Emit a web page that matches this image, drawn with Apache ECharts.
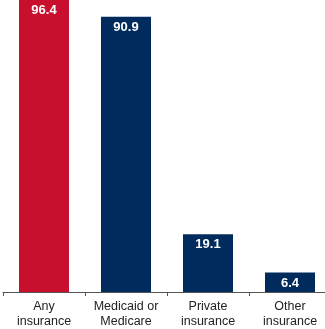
<!DOCTYPE html>
<html>
<head>
<meta charset="utf-8">
<script src="https://cdn.jsdelivr.net/npm/echarts@6/dist/echarts.min.js"></script>
<style>
  html, body { margin: 0; padding: 0; background: #fff; }
  #chart { width: 325px; height: 329px; }
</style>
</head>
<body>
<div id="chart"></div>
<script>
// Insurance coverage shares (percent)
const categories = ['Any\ninsurance', 'Medicaid or\nMedicare', 'Private\ninsurance', 'Other\ninsurance'];
const values = [96.4, 90.9, 19.1, 6.4];
const barColors = ['#C8102E', '#002B5C', '#002B5C', '#002B5C'];

const chart = echarts.init(document.getElementById('chart'));
chart.setOption({
  animation: false,
  grid: { left: 3, width: 328, top: 0, bottom: 37, outerBoundsMode: 'none', containLabel: false },
  xAxis: {
    type: 'category',
    data: categories,
    boundaryGap: true,
    axisLine: { lineStyle: { color: '#555', width: 1 } },
    axisTick: { show: true, length: 4, lineStyle: { color: '#555' } },
    axisLabel: {
      color: '#222',
      fontFamily: 'Liberation Sans, Arial, sans-serif',
      fontSize: 12.5,
      lineHeight: 15,
      margin: 7,
      interval: 0
    }
  },
  yAxis: {
    type: 'value',
    min: 0,
    max: 96.4,
    show: false,
    splitLine: { show: false }
  },
  series: [{
    type: 'bar',
    barWidth: 50,
    data: values.map((v, i) => ({ value: v, itemStyle: { color: barColors[i] } })),
    label: {
      show: true,
      position: 'insideTop',
      distance: 4,
      color: '#fff',
      fontFamily: 'Liberation Sans, Arial, sans-serif',
      fontSize: 13,
      fontWeight: 'bold',
      formatter: p => p.value.toFixed(1)
    }
  }]
});
</script>
</body>
</html>
